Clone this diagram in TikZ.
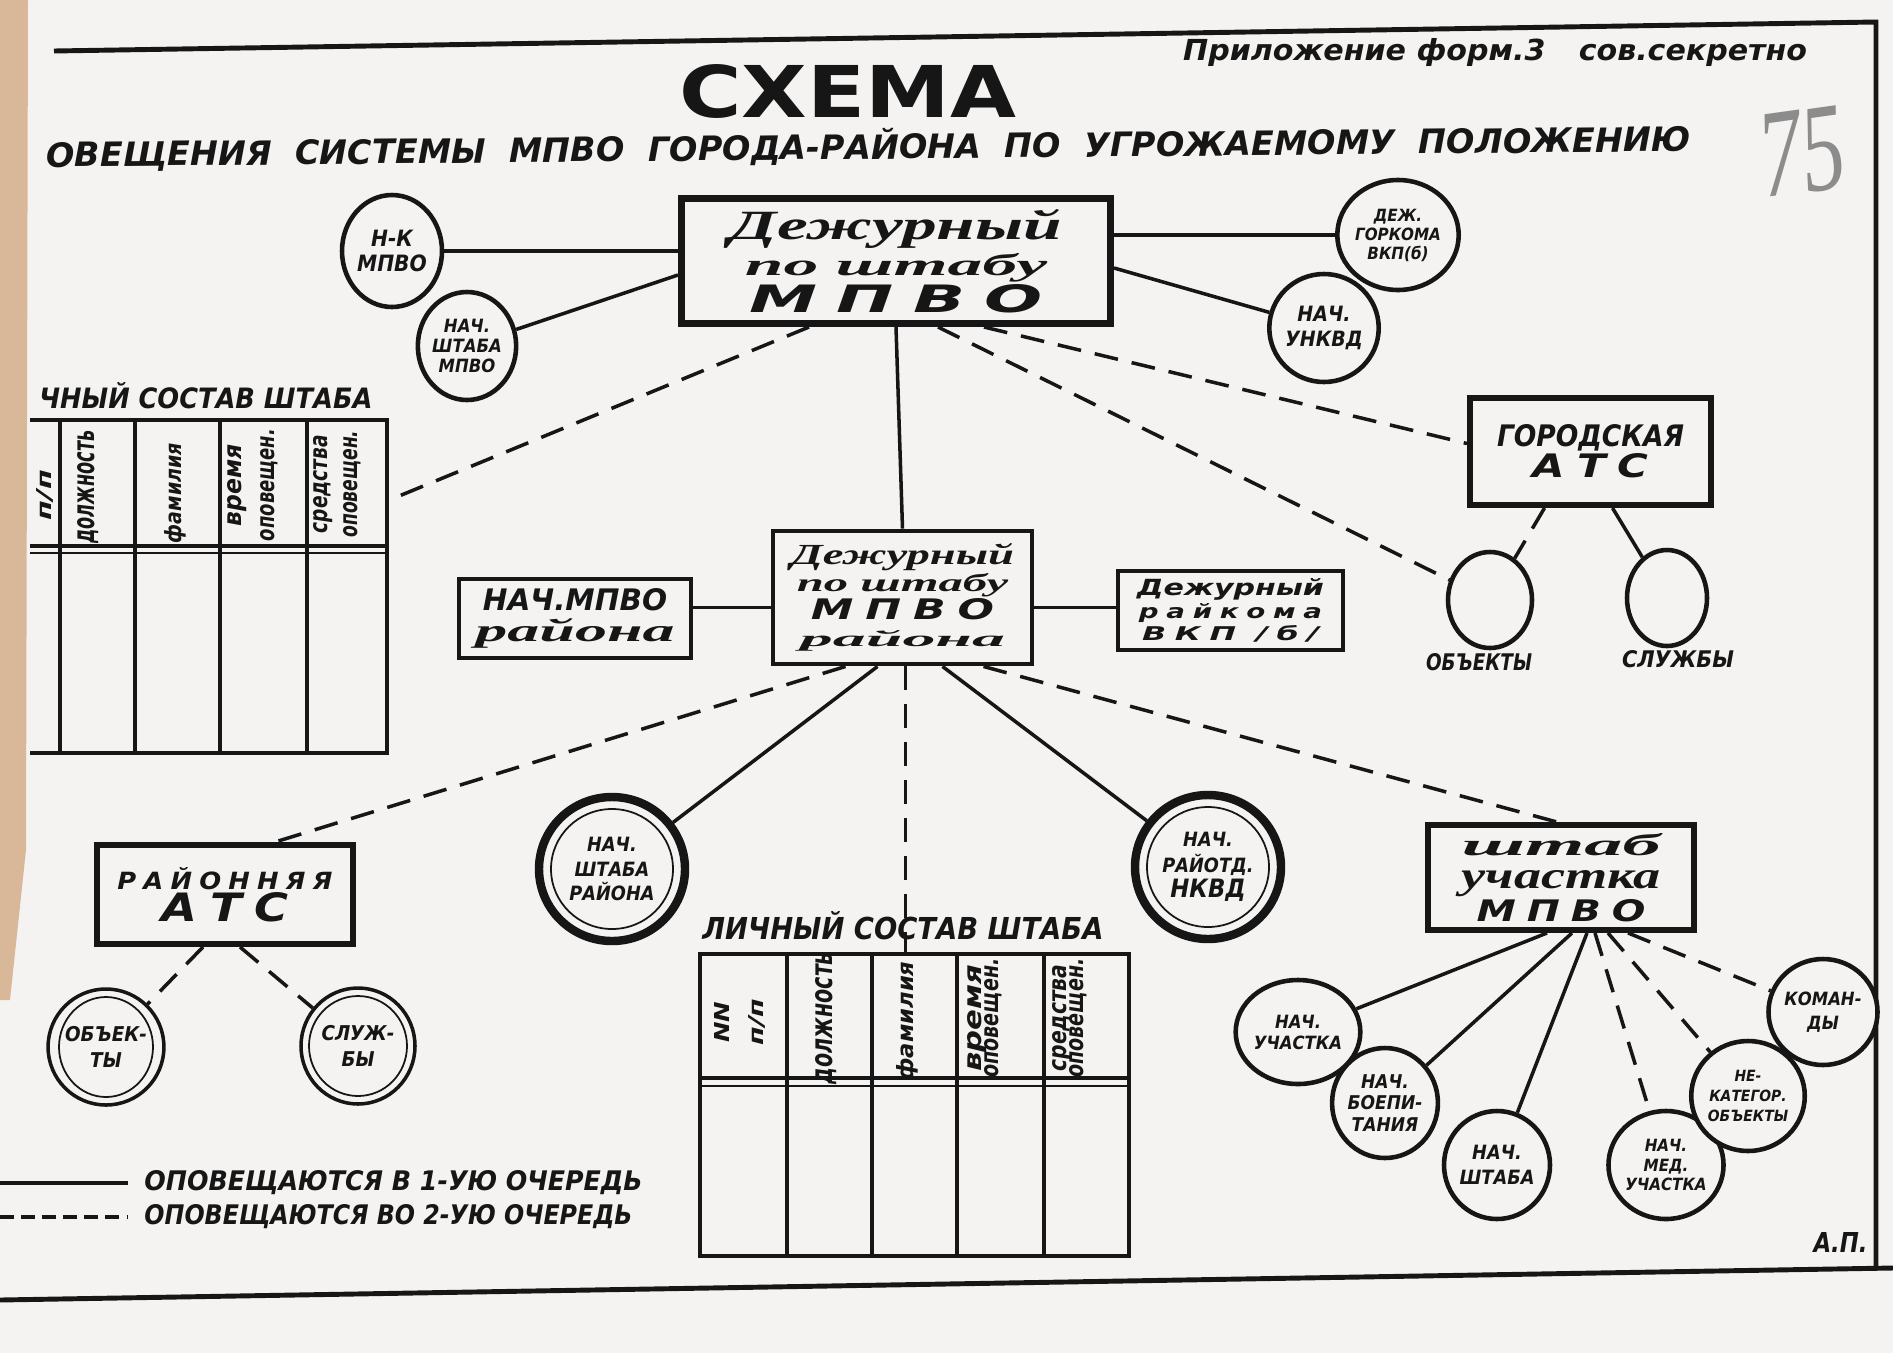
\documentclass[tikz,border=0pt]{standalone}
\usepackage{fontspec}
\setmainfont{DejaVu Sans}
\newfontfamily\lbl{DejaVu Sans Condensed}[BoldFont={DejaVu Sans Condensed Bold},ItalicFont={DejaVu Sans Condensed Oblique},BoldItalicFont={DejaVu Sans Condensed Bold Oblique}]
\newfontfamily\crs{Liberation Serif}
\usetikzlibrary{shapes.geometric,calc,positioning}
\definecolor{ink}{HTML}{161616}
\definecolor{paper}{HTML}{F4F3F1}
\definecolor{edge}{HTML}{D8B899}
\definecolor{pencil}{HTML}{8C8C8C}
\newlength\pxu
\setlength\pxu{0.5mm}
\newcommand\fitw[3]{\resizebox{#1\pxu}{#2\pxu}{#3}}
\newcommand\sten{\lbl\bfseries\itshape}
\newcommand\curs{\crs\bfseries\itshape}
\newcommand\wide{\addfontfeatures{LetterSpace=25}}
\newcommand\fsz[2]{\fontsize{#1}{#2}\selectfont\lineskiplimit=-500pt\relax}

\begin{document}
\begin{tikzpicture}[x=0.5mm,y=-0.5mm,color=ink,
  boxdim/.style 2 args={minimum width=#1*0.5mm,minimum height=#2*0.5mm},
  framebox/.style={draw=ink,line width=8.5pt,inner sep=0pt,align=center,fill=paper},
  ring/.style={ellipse,draw=ink,line width=6.5pt,inner sep=0pt,align=center,fill=paper},
  conn/.style={ink,line width=5pt},
  later/.style={ink,line width=5pt,dash pattern=on 34pt off 20pt},
  grid/.style={ink,line width=4.5pt},
  colhead/.style={rotate=90,align=center,inner sep=0pt,font=\sten\fsz{10}{#1}}]
  \fill[paper] (0,0) rectangle (1893,1353);
  \useasboundingbox (0,0) rectangle (1893,1353);
  \fill[edge] (0,0) -- (28,0) -- (26,850) -- (10,1000) -- (0,1000) -- cycle;
  \draw[ink,line width=7pt] (54,51) -- (1876,22) -- (1876,1270);
  \draw[ink,line width=7pt] (0,1300) -- (1893,1268);

  \node[anchor=base west,inner sep=0pt] (hdr) at (1183,60) {\fitw{624}{22}{\sten Приложение форм.3\quad сов.секретно}};
  \node[anchor=base,inner sep=0pt] (ttl) at (848,117) {\fitw{337}{53}{\bfseries СХЕМА}};
  \node[anchor=base west,rotate=0.55,inner sep=0pt] (sub) at (46,167) {\fitw{1644}{31}{\sten ОВЕЩЕНИЯ\ \ СИСТЕМЫ\ \ МПВО\ \ ГОРОДА-РАЙОНА\ \ ПО\ \ УГРОЖАЕМОМУ\ \ ПОЛОЖЕНИЮ}};
  \node[text=pencil,rotate=8,inner sep=0pt] (pg) at (1802,152) {\fitw{86}{82}{\crs\itshape 75}};

  \node[framebox,line width=10pt,boxdim={429}{125},font=\fsz{10}{52}] (hq) at (896,261) {\fitw{332}{30}{\curs Дежурный}\\\fitw{302}{22}{\curs по штабу}\\\fitw{292}{28}{\sten\wide МПВО}};
  \node[ring,boxdim={100}{112},font=\sten\fsz{32}{36}] (nk) at (392,251) {Н-К\\МПВО};
  \node[ring,boxdim={96}{108},font=\sten\fsz{26}{28}] (nsm) at (467,346) {НАЧ.\\ШТАБА\\МПВО};
  \node[ring,boxdim={100}{110},font=\sten\fsz{24}{27}] (gk) at (1398,235) {ДЕЖ.\\ГОРКОМА\\ВКП(б)};
  \node[ring,boxdim={96}{108},font=\sten\fsz{30}{36}] (unkvd) at (1324,328) {НАЧ.\\УНКВД};
  \node[framebox,boxdim={241}{107},font=\fsz{10}{44}] (gats) at (1590.5,451.5) {\fitw{187}{22}{\sten ГОРОДСКАЯ}\\\fitw{115}{24}{\sten\wide АТС}};
  \node[ring,boxdim={84}{96}] (gobj) at (1490,600) {};
  \node[ring,boxdim={80}{96}] (gsl) at (1667,598) {};
  \node[anchor=base] (gobjL) at (1479,670) {\fitw{106}{17}{\sten ОБЪЕКТЫ}};
  \node[anchor=base] (gslL) at (1678,667) {\fitw{112}{17}{\sten СЛУЖБЫ}};

  \node[anchor=base west] (ltabT) at (37,408) {\fitw{333}{26}{\sten ЧНЫЙ СОСТАВ ШТАБА}};
  \draw[grid] (30,420) -- (387,420) -- (387,753) -- (30,753);
  \foreach \x in {60,135,220,307} \draw[grid] (\x,420) -- (\x,753);
  \draw[grid,line width=6pt] (30,546) -- (387,546);
  \draw[grid,line width=3pt] (30,553) -- (387,553);
  \node[colhead=10] (lh1) at (45,495) {\fitw{50}{15}{п/п}};
  \node[colhead=10] (lh2) at (88,487) {\fitw{113}{17}{должность}};
  \node[colhead=10] (lh3) at (175,493) {\fitw{100}{17}{фамилия}};
  \node[colhead=47] (lh4) at (253,485) {\fitw{82}{14}{время}\\\fitw{112}{14}{оповещен.}};
  \node[colhead=43] (lh5) at (337,484) {\fitw{98}{14}{средства}\\\fitw{107}{14}{оповещен.}};
  \coordinate (ltabR) at (387,501);

  \node[framebox,line width=7pt,boxdim={259}{133},font=\fsz{10}{39}] (mid) at (902.5,597.5) {\fitw{223}{21}{\curs Дежурный}\\\fitw{211}{18}{\curs по штабу}\\\fitw{183}{21}{\sten\wide МПВО}\\\fitw{205}{16}{\curs района}};
  \node[framebox,line width=7pt,boxdim={232}{79},font=\fsz{10}{45}] (nmr) at (575,618.5) {\fitw{184}{22}{\sten НАЧ.МПВО}\\\fitw{199}{23}{\curs района}};
  \node[framebox,line width=7pt,boxdim={225}{79},font=\fsz{10}{32}] (drk) at (1230.5,610.5) {\fitw{187}{17}{\sten Дежурный}\\\fitw{183}{15}{\sten\wide райкома}\\\fitw{177}{15}{\sten\wide ВКП /б/}};

  \node[framebox,boxdim={256}{99},font=\fsz{10}{46}] (rats) at (225,894.5) {\fitw{215}{22}{\sten\wide РАЙОННЯЯ}\\\fitw{127}{29}{\sten\wide АТС}};
  \node[ring,line width=5pt,boxdim={110}{116},font=\sten\fsz{29}{38}] (robj) at (106,1047) {ОБЪЕК-\\ТЫ};
  \node[ring,line width=5pt,boxdim={114}{116},font=\sten\fsz{29}{38}] (rsl) at (358,1046) {СЛУЖ-\\БЫ};
  \node[ring,line width=12pt,boxdim={146}{144},font=\sten\fsz{28}{35}] (nshr) at (612,869) {НАЧ.\\ШТАБА\\РАЙОНА};
  \node[ring,line width=12pt,boxdim={146}{144},font=\sten\fsz{28}{36}] (nkvd) at (1208,867) {НАЧ.\\РАЙОТД.\\{\fontsize{36}{36}\selectfont НКВД}};
  \foreach \n/\rx/\ry in {robj/47/50,rsl/49/50,nshr/61/60,nkvd/61/60}
    \draw[ink,line width=2.5pt] (\n.center) ellipse [x radius=\rx,y radius=\ry];

  \node[anchor=base west] (mtabT) at (700,939) {\fitw{401}{28}{\sten ЛИЧНЫЙ СОСТАВ ШТАБА}};
  \draw[grid] (700,954) rectangle (1129,1256);
  \foreach \x in {787,872,957,1044} \draw[grid] (\x,954) -- (\x,1256);
  \draw[grid,line width=6pt] (700,1078) -- (1129,1078);
  \draw[grid,line width=3pt] (700,1086) -- (1129,1086);
  \node[colhead=48] (mh1) at (740,1022) {\fitw{41}{15}{NN}\\\fitw{47}{15}{п/п}};
  \node[colhead=10] (mh2) at (826,1018) {\fitw{132}{17}{должность}};
  \node[colhead=10] (mh3) at (907,1021) {\fitw{119}{17}{фамилия}};
  \node[colhead=24] (mh4) at (985,1018) {\fitw{107}{14}{время}\\\fitw{119}{14}{оповещен.}};
  \node[colhead=24] (mh5) at (1070,1018) {\fitw{107}{14}{средства}\\\fitw{119}{14}{оповещен.}};
  \coordinate (mtabTop) at (905.5,954);

  \node[framebox,boxdim={266}{105},font=\fsz{10}{47}] (uch) at (1561,877.5) {\fitw{199}{22}{\curs штаб}\\\fitw{199}{18}{\curs участка}\\\fitw{169}{22}{\sten\wide МПВО}};
  \node[ring,boxdim={100}{104},font=\sten\fsz{26}{30}] (nu) at (1298,1032) {НАЧ.\\УЧАСТКА};
  \node[ring,boxdim={96}{110},font=\sten\fsz{27}{30}] (nb) at (1385,1103) {НАЧ.\\БОЕПИ-\\ТАНИЯ};
  \node[ring,boxdim={106}{108},font=\sten\fsz{28}{36}] (nsh) at (1497,1165) {НАЧ.\\ШТАБА};
  \node[ring,boxdim={108}{108},font=\sten\fsz{24}{28}] (nmed) at (1666,1165) {НАЧ.\\МЕД.\\УЧАСТКА};
  \node[ring,boxdim={106}{110},font=\sten\fsz{22}{28}] (nekat) at (1748,1096) {НЕ-\\КАТЕГОР.\\ОБЪЕКТЫ};
  \node[ring,boxdim={106}{106},font=\sten\fsz{26}{34}] (kom) at (1823,1012) {КОМАН-\\ДЫ};

  \draw[conn] (nk) -- (nk -| hq.west);
  \draw[conn] (nsm) -- ($(hq.west)+(0,14)$);
  \draw[conn] (gk) -- (gk -| hq.east);
  \draw[conn] (unkvd) -- ($(hq.east)+(0,7)$);
  \draw[conn] (hq.south) -- (mid.north);
  \draw[later] ($(hq.south)+(-87,0)$) -- (ltabR);
  \draw[later] ($(hq.south)+(88,0)$) -- ($(gats.west)+(0,-8)$);
  \draw[later] ($(hq.south)+(42,0)$) -- (gobj);
  \draw[later] ($(gats.south)+(-46,0)$) -- (gobj);
  \draw[conn] ($(gats.south)+(22,0)$) -- (gsl);

  \coordinate (mw) at ($(mid.west)+(0,10)$);
  \coordinate (me) at ($(mid.east)+(0,10)$);
  \draw[conn] (mw) -- (mw -| nmr.east);
  \draw[conn] (me) -- (me -| drk.west);
  \draw[later] ($(mid.south)+(-57,0)$) -- ($(rats.north)+(50,0)$);
  \draw[conn] ($(mid.south)+(-25,0)$) -- (nshr);
  \draw[later] ($(mid.south)+(3,0)$) -- (mtabTop);
  \draw[conn] ($(mid.south)+(40,0)$) -- (nkvd);
  \draw[later] ($(mid.south)+(81,0)$) -- ($(uch.north)+(-4,0)$);
  \draw[later] ($(rats.south)+(-22,0)$) -- (robj);
  \draw[later] ($(rats.south)+(15,0)$) -- (rsl);
  \foreach \n/\dx in {nu/-14,nb/11,nsh/26}
    \draw[conn] ($(uch.south)+(\dx,0)$) -- (\n);
  \foreach \n/\dx in {nmed/34,nekat/47,kom/67}
    \draw[later] ($(uch.south)+(\dx,0)$) -- (\n);

  \coordinate (la) at (0,1183);
  \coordinate (lb) at (128,1183);
  \coordinate (lc) at (0,1217);
  \coordinate (ld) at (128,1217);
  \draw[conn] (la) -- (lb);
  \draw[conn,dash pattern=on 20pt off 10pt] (lc) -- (ld);
  \node[anchor=west] (leg1) at (142,1183) {\fitw{498}{20}{\sten ОПОВЕЩАЮТСЯ В 1-УЮ ОЧЕРЕДЬ}};
  \node[anchor=west] (leg2) at (142,1217) {\fitw{488}{20}{\sten ОПОВЕЩАЮТСЯ ВО 2-УЮ ОЧЕРЕДЬ}};
  \node[anchor=base west] (ap) at (1811,1252) {\fitw{54}{20}{\sten А.П.}};
\end{tikzpicture}
\end{document}
